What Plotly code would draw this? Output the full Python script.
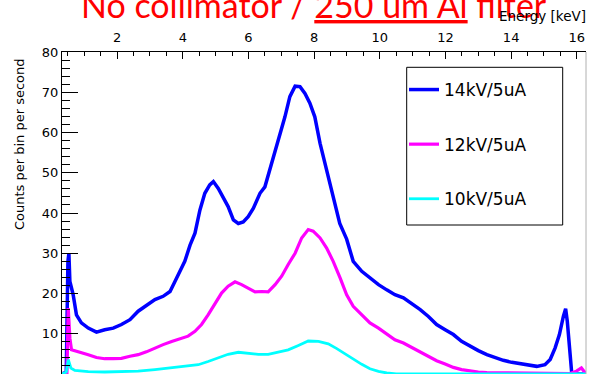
import plotly.graph_objects as go

# Spectra measured without collimator, 250 um Al filter
energy_14kv = [0.32, 0.45, 0.50, 0.53, 0.56, 0.66, 0.76, 0.91, 1.12, 1.37, 1.62, 1.88, 2.13, 2.39,
               2.64, 2.89, 3.15, 3.40, 3.61, 3.76, 3.91, 4.06, 4.22, 4.37, 4.52, 4.67, 4.82, 4.93,
               5.08, 5.23, 5.38, 5.54, 5.69, 5.84, 5.99, 6.15, 6.35, 6.50, 6.65, 6.81, 6.96, 7.11,
               7.26, 7.42, 7.57, 7.72, 7.87, 8.02, 8.18, 8.33, 8.48, 8.63, 8.78, 8.99, 9.19, 9.45,
               9.70, 9.96, 10.21, 10.46, 10.72, 10.97, 11.23, 11.48, 11.73, 11.99, 12.24, 12.49,
               12.75, 13.00, 13.26, 13.51, 13.76, 14.02, 14.27, 14.53, 14.78, 15.03, 15.19, 15.34,
               15.47, 15.59, 15.66, 15.71, 15.77, 15.84, 15.89, 16.28]
counts_14kv = [0, 0.5, 28, 30, 23, 19.7, 14.7, 12.7, 11.4, 10.4, 11.0, 11.4, 12.3, 13.5,
               15.6, 17.1, 18.5, 19.3, 20.5, 23, 25.5, 28, 32, 35, 40.7, 44.9, 47, 47.8,
               46.1, 44, 41.6, 38.3, 37.4, 37.8, 39.1, 41.2, 44.9, 46.5, 50.7, 54.8, 59, 63.9,
               68.9, 71.5, 71.4, 69.7, 67.3, 63.9, 57.3, 52.3, 47.4, 41.6, 37.4, 33.5, 28, 25.5,
               23.9, 22.2, 20.9, 19.7, 18.9, 17.6, 16, 14.3, 12.3, 11, 9.8, 8.1,
               6.9, 5.8, 4.8, 4.0, 3.4, 2.9, 2.5, 2.2, 1.9, 2.3, 3.6, 6.5,
               9.8, 14.3, 16.2, 13.1, 7.3, 0.7, 0, 0]

energy_12kv = [0.32, 0.47, 0.51, 0.56, 0.61, 0.86, 1.12, 1.37, 1.62, 1.88, 2.13, 2.39, 2.64, 2.89,
               3.15, 3.40, 3.66, 3.91, 4.16, 4.37, 4.57, 4.77, 4.98, 5.18, 5.38, 5.59, 5.79, 5.99,
               6.20, 6.40, 6.60, 6.81, 7.01, 7.21, 7.42, 7.62, 7.82, 7.97, 8.18, 8.38, 8.58, 8.79,
               8.99, 9.19, 9.45, 9.70, 9.96, 10.21, 10.46, 10.72, 10.97, 11.23, 11.48, 11.73,
               11.99, 12.24, 12.49, 12.75, 13.00, 13.26, 13.80, 14.50, 15.20, 15.79, 15.99, 16.14,
               16.28]
counts_12kv = [0, 0.3, 16.4, 8.9, 6.0, 5.5, 4.8, 4.1, 3.8, 3.8, 3.9, 4.4, 4.8, 5.5,
               6.5, 7.3, 8.1, 8.8, 9.4, 10.6, 12.3, 14.7, 17.6, 20.1, 21.8, 22.9, 22.2, 21.4,
               20.4, 20.5, 20.4, 22.2, 24.3, 27.2, 30, 33.8, 35.9, 35.5, 33.8, 31.3, 28, 23.9,
               19.7, 16.8, 14.6, 12.7, 11.4, 9.9, 8.5, 7.7, 6.6, 5.5, 4.4, 3.3,
               2.5, 1.65, 1.1, 0.7, 0.5, 0.33, 0.25, 0.2, 0.15, 0.1, 0.7, 1.5,
               0]

energy_10kv = [0.32, 0.45, 0.51, 0.59, 0.71, 1.12, 1.62, 2.13, 2.64, 3.15, 3.66, 4.16, 4.47, 4.77,
               5.08, 5.38, 5.69, 5.99, 6.30, 6.60, 6.91, 7.21, 7.52, 7.82, 8.13, 8.43, 8.69, 8.94,
               9.19, 9.45, 9.70, 9.96, 10.21, 10.50, 16.28]
counts_10kv = [0, 0.5, 3.6, 1.5, 0.9, 0.6, 0.5, 0.6, 0.7, 1.1, 1.5, 1.9, 2.3, 3.1,
               4.1, 4.9, 5.4, 5.2, 4.9, 4.9, 5.4, 6.0, 7.1, 8.2, 8.1, 7.5, 6.3, 5.0,
               3.6, 2.4, 1.3, 0.66, 0.25, 0.05, 0.05]

series_names = ["14kV/5uA", "12kV/5uA", "10kV/5uA"]
series_colors = ["#0000ff", "#ff00ff", "#00ffff"]
series_widths = [3.5, 3.2, 2.8]

energy_range = [0.32, 16.28]
channel_range = [0, 1486]
count_range = [0, 80]

W, H = 589, 378
L, R, T, B = 62, 3, 52, 4
PW, PH = W - L - R, H - T - B


def px(x):
    return (x - L) / PW


def py(y):
    return (H - B - y) / PH


fig = go.Figure()
for name, xs, ys, col, lw in zip(series_names,
                                 [energy_14kv, energy_12kv, energy_10kv],
                                 [counts_14kv, counts_12kv, counts_10kv],
                                 series_colors, series_widths):
    fig.add_trace(go.Scatter(x=xs, y=ys, mode="lines", name=name, legendgroup=name,
                             line=dict(color=col, width=lw)))

tick_font = dict(family="DejaVu Sans", size=13, color="black")

fig.update_layout(
    width=W, height=H,
    margin=dict(l=L, r=R, t=T, b=B, autoexpand=False),
    paper_bgcolor="white", plot_bgcolor="white",
    showlegend=True,
    legend=dict(x=px(404), y=py(72), xanchor="left", yanchor="top",
                bgcolor="rgba(0,0,0,0)", borderwidth=0,
                font=dict(family="DejaVu Sans", size=17, color="black"),
                tracegroupgap=29.5, itemwidth=30),
    xaxis=dict(range=energy_range, side="top", showgrid=False, zeroline=False,
               showline=True, linecolor="black", linewidth=1,
               ticks="inside", ticklen=7, tickwidth=1, tickcolor="black",
               tick0=0, dtick=2, tickfont=tick_font, ticklabelstandoff=4,
               minor=dict(ticks="inside", ticklen=4, dtick=0.5, tick0=0,
                          tickcolor="black", showgrid=False)),
    xaxis2=dict(range=channel_range, overlaying="x", side="bottom", anchor="y",
                showgrid=False, zeroline=False, showline=True, linecolor="black",
                linewidth=1, ticks="inside", ticklen=8, tickwidth=1, tickcolor="black",
                tick0=0, dtick=200, showticklabels=False,
                minor=dict(ticks="inside", ticklen=4, dtick=50, tick0=0,
                           tickcolor="black", showgrid=False)),
    yaxis=dict(range=count_range, showgrid=False, zeroline=False,
               showline=True, linecolor="black", linewidth=1,
               ticks="inside", ticklen=16, tickwidth=1, tickcolor="black",
               tick0=0, dtick=10, tickfont=tick_font,
               minor=dict(ticks="inside", ticklen=8, dtick=2, tick0=0,
                          tickcolor="black", showgrid=False)),
)

# frame: right edge and legend box
fig.add_shape(type="line", xref="paper", yref="paper", x0=1, x1=1, y0=0, y1=1,
              line=dict(color="#b0b0b0", width=1))
fig.add_shape(type="rect", xref="paper", yref="paper",
              x0=px(406.7), x1=px(562.7), y0=py(225), y1=py(67.3),
              line=dict(color="black", width=1), fillcolor="rgba(0,0,0,0)", layer="above")

fig.add_annotation(text="No collimator / <u>250 um Al</u> filter", xref="paper", yref="paper",
                   x=px(314), y=py(21), xanchor="center", yanchor="bottom", yshift=-6,
                   showarrow=False, font=dict(family="Lato", size=34, color="#ff0000"))
fig.add_annotation(text="Energy [keV]", xref="paper", yref="paper",
                   x=px(587.5), y=py(16), xanchor="right", yanchor="middle",
                   showarrow=False, font=dict(family="DejaVu Sans", size=13.5, color="black"))
fig.add_annotation(text="Counts per bin per second", xref="paper", yref="paper",
                   x=px(19), y=py(144), xanchor="center", yanchor="middle", textangle=-90,
                   showarrow=False, font=dict(family="DejaVu Sans", size=13, color="black"))

fig.write_html("out.html")
